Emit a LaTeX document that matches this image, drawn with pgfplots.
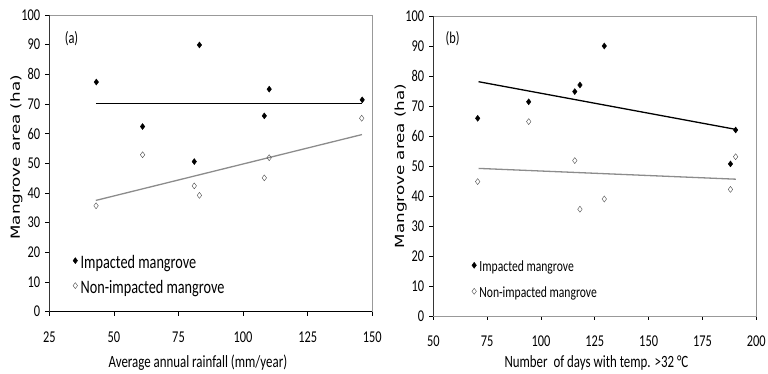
\documentclass[border=0pt]{standalone}
\usepackage{pgfplots}
\pgfplotsset{compat=1.18}
\usepackage{graphicx}
\usepackage{fontspec}
\setmainfont{Carlito}[FakeStretch=0.75]
\newfontfamily\dejavu{DejaVu Sans}

\pgfplotsset{
  panel/.style={
    scale only axis, width=323pt,
    ymin=0, ymax=100, ytick={0,10,...,100},
    tick align=outside, xtick pos=left, ytick pos=left,
    major tick length=4pt,
    tick style={black, line width=0.8pt},
    axis line style={draw=black!40, line width=0.8pt},
    /pgf/number format/assume math mode=true,
    ticklabel style={font=\fontsize{16.5}{16}\selectfont},
    xticklabel style={inner sep=0pt, yshift=-16pt},
    yticklabel style={inner sep=0pt, xshift=-5pt},
    xlabel style={font=\fontsize{17.2}{18}\selectfont, inner sep=0pt, anchor=base},
    ylabel style={font=\dejavu\fontsize{16.7}{17}\selectfont, inner sep=0pt, anchor=center},
    legend style={draw=none, fill=none, inner sep=0pt, column sep=3pt},
    legend cell align=left,
  },
  imp/.style={only marks, mark=diamond*, mark size=3pt, draw=black, fill=black},
  non/.style={only marks, mark=diamond, mark size=3pt, draw=black!70, fill=white, mark options={fill=white}},
}

\begin{document}
\begin{tikzpicture}[x=1pt,y=1pt]
\path[use as bounding box] (0,0) rectangle (768,374);

% Panel (a)
\begin{axis}[panel, at={(49.3pt,62.3pt)}, anchor=south west, height=296.7pt,
  xmin=25, xmax=150, xtick={25,50,...,150},
  xlabel={Average annual rainfall (mm/year)},
  xlabel style={at={(axis description cs:0.46,-0.188)}},
  ylabel={\scalebox{1}[0.75]{Mangrove area (ha)}},
  ylabel style={at={(axis description cs:-0.102,0.52)}},
  legend style={at={(axis description cs:0.073,0.188)}, anchor=north west,
    font=\fontsize{19}{19}\selectfont,
    nodes={inner sep=0pt, text height=12pt, text depth=3pt}, row sep=10pt},
  legend image code/.code={\draw[mark repeat=2,mark phase=2] plot coordinates {(0pt,3pt) (3pt,3pt) (6pt,3pt)};},
]
\draw[black, line width=0.8pt] (rel axis cs:0,1) -- (rel axis cs:0,0) -- (rel axis cs:1,0);
\addplot[black, line width=1.3pt, forget plot] coordinates {(43,70.2) (146,70.2)};
\addplot[black!45, line width=1.3pt, forget plot] coordinates {(43,37.5) (146,59.7)};
\addplot[imp] coordinates {(43.2,77.4) (61.1,62.4) (81.1,50.6) (83.1,89.9) (108.2,66.0) (110.1,75.0) (146.1,71.4)};
\addplot[non] coordinates {(43.1,35.7) (61.1,52.9) (81.1,42.4) (83.1,39.2) (108.2,45.1) (110.1,51.9) (145.9,65.2)};
\legend{Impacted mangrove, Non-impacted mangrove}
\node[font=\fontsize{16.5}{16}\selectfont] at (axis cs:33.6,91.9) {(a)};
\end{axis}

% Panel (b)
\begin{axis}[panel, at={(433.3pt,58pt)}, anchor=south west, height=300pt,
  xmin=50, xmax=200, xtick={50,75,...,200},
  xlabel={Number\kern3pt\ of days with temp. >32 °C},
  xlabel style={at={(axis description cs:0.505,-0.172)}},
  ylabel={\scalebox{1}[0.75]{Mangrove area (ha)}},
  ylabel style={at={(axis description cs:-0.101,0.5)}},
  legend style={at={(axis description cs:0.119,0.183)}, anchor=north west,
    font=\fontsize{15.5}{15}\selectfont,
    nodes={inner sep=0pt, text height=10pt, text depth=3pt}, row sep=13pt},
  legend image code/.code={\draw[mark repeat=2,mark phase=2] plot coordinates {(0pt,2.5pt) (3pt,2.5pt) (6pt,2.5pt)};},
]
\draw[black, line width=0.8pt] (rel axis cs:0,1) -- (rel axis cs:0,0) -- (rel axis cs:1,0);
\addplot[black, line width=1.3pt, forget plot] coordinates {(71,78.1) (190.5,62.2)};
\addplot[black!45, line width=1.3pt, forget plot] coordinates {(71,49.2) (190.5,45.6)};
\addplot[imp] coordinates {(70.6,65.9) (94.3,71.4) (115.7,74.8) (118.1,77.0) (129.4,90.0) (188,50.7) (190.4,62.0)};
\addplot[non] coordinates {(70.6,44.8) (94.3,64.8) (115.7,51.8) (118.1,35.6) (129.4,39.0) (188,42.2) (190.4,53.1)};
\legend{Impacted mangrove, Non-impacted mangrove}
\node[font=\fontsize{16.5}{16}\selectfont] at (axis cs:59,92.5) {(b)};
\end{axis}
\end{tikzpicture}
\end{document}
